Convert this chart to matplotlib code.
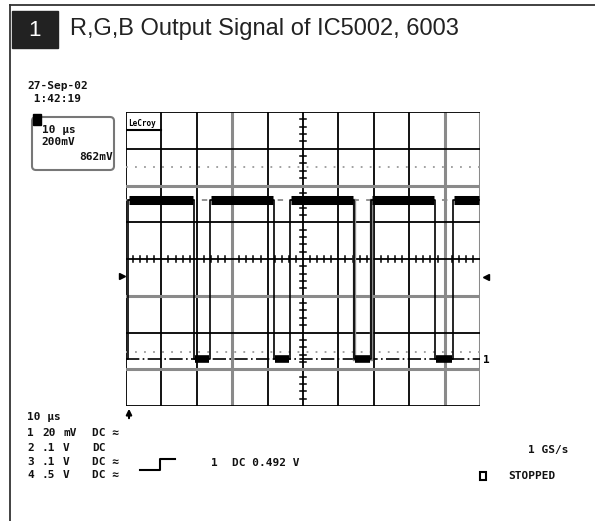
import numpy as np
import matplotlib.pyplot as plt
from matplotlib.patches import Rectangle, FancyBboxPatch

# channel 1 trace, time in us (10 us/div), level in divisions
edge_times = [0.0, 0.6, 19.2, 23.7, 41.9, 46.3, 64.5, 69.2, 87.3, 92.4, 100.0]
edge_states = [0, 1, 0, 1, 0, 1, 0, 1, 0, 1]   # 0 = low, 1 = high
high_level = 1.6
low_level = -2.72

# cursor / reference lines (divisions)
dotted_levels = [2.5, -2.53]

# screen grid
black_vlines = [0, 1, 2, 4, 5, 6, 7, 8]
gray_vlines = [3, 9, 10]
black_hlines = [-4, -2, 0, 1, 3, 4]
gray_hlines = [-3, -1, 2]

title = "R,G,B Output Signal of IC5002, 6003"
mono = "DejaVu Sans Mono"

W, H = 595, 521
fig = plt.figure(figsize=(W / 100, H / 100), dpi=100)

# page layer in pixel coordinates
page = fig.add_axes([0, 0, 1, 1])
page.set_xlim(0, W)
page.set_ylim(H, 0)
page.axis("off")

# frame and title
page.plot([10, W], [5, 5], color="#333333", lw=1.3)
page.plot([10, 10], [5, H], color="#333333", lw=1.3)
page.add_patch(Rectangle((12, 11), 46, 37, color="#222222"))
page.text(35, 30, "1", color="white", fontsize=16, ha="center", va="center",
          family="Liberation Sans")
page.text(70, 29, title, color="#222222", fontsize=17, ha="left", va="center",
          family="Liberation Sans")

# scope screen
gx0, gy0, gx1, gy1 = 126, 112, 480, 406
scope = fig.add_axes([gx0 / W, 1 - gy1 / H, (gx1 - gx0) / W, (gy1 - gy0) / H])
scope.set_xlim(0, 100)
scope.set_ylim(-4, 4)
scope.axis("off")

for x in black_vlines:
    scope.axvline(x * 10, color="black", lw=1.3, zorder=2)
for x in gray_vlines:
    scope.axvline(x * 10, color="#8a8a8a", lw=2.2, zorder=2)
for y in black_hlines:
    scope.axhline(y, color="black", lw=1.3, zorder=2)
for y in gray_hlines:
    scope.axhline(y, color="#8a8a8a", lw=2.2, zorder=2)

# minor ticks on the centre axes
minor_y = [v / 5 for v in range(-20, 21) if v % 5]
minor_x = [v * 2 for v in range(0, 51) if v % 5]
for y in minor_y:
    scope.plot([49.2, 50.8], [y, y], color="black", lw=1.1, zorder=3)
for x in minor_x:
    scope.plot([x, x], [-0.08, 0.08], color="black", lw=1.1, zorder=3)

for y in dotted_levels:
    scope.axhline(y, color="#9a9a9a", lw=1.3, ls=(0, (1, 4)), zorder=2)
scope.axhline(high_level, color="#8a8a8a", lw=1.3, ls=(0, (3, 4)), zorder=2)
scope.axhline(low_level, color="black", lw=1.2, ls=(0, (8, 2, 1, 2)), zorder=3)

# gray channel edges behind the trace
for t in [edge_times[6], edge_times[7]]:
    scope.plot([t, t], [low_level, high_level], color="#8a8a8a", lw=2.4, zorder=3)

levels = [high_level if s else low_level for s in edge_states]
scope.step(edge_times, levels + [levels[-1]], where="post", color="black",
           lw=1.2, zorder=4)
for t0, t1, s in zip(edge_times[:-1], edge_times[1:], edge_states):
    lvl = high_level if s else low_level
    scope.plot([t0 + 0.3, t1 - 0.3], [lvl, lvl], color="black",
               lw=6.5 if s else 5.5, solid_capstyle="butt", zorder=5)

scope.text(0.6, 3.8, "LeCroy", family=mono, fontsize=5.5, weight="bold",
           ha="left", va="top", zorder=6)
scope.plot([0.3, 10], [3.5, 3.5], color="black", lw=1.5, zorder=6)

# markers around the screen
page.plot([122], [276], marker=">", color="black", ms=4)
page.plot([486], [277], marker="<", color="black", ms=4)
page.text(483, 360, "1", family=mono, fontsize=8, weight="bold", ha="left", va="center")
page.annotate("", xy=(129, 406), xytext=(129, 421),
              arrowprops=dict(arrowstyle="-|>", color="black", lw=1.5,
                              mutation_scale=8))

# timestamp and zoom box
txt = dict(family=mono, fontsize=8, weight="bold", va="center", color="#111111")
page.text(27, 86, "27-Sep-02", ha="left", **txt)
page.text(27, 99, " 1:42:19", ha="left", **txt)
page.add_patch(FancyBboxPatch((32, 117), 82, 53, boxstyle="round,pad=0,rounding_size=4",
                              fc="white", ec="#777777", lw=1.5))
page.add_patch(Rectangle((33, 114), 8, 11, color="black"))
page.text(42, 130, "10 µs", ha="left", **txt)
page.text(41, 142, "200mV", ha="left", **txt)
page.text(113, 157, "862mV", ha="right", **txt)

# channel settings
page.text(27, 417, "10 µs", ha="left", **txt)
rows_y = [433, 448, 462, 475]
ch_names = ["1", "2", "3", "4"]
ch_scale = ["20", ".1", ".1", ".5"]
ch_unit = ["mV", "V", "V", "V"]
ch_coupling = ["DC ≈", "DC", "DC ≈", "DC ≈"]
for y, n, s, u, c in zip(rows_y, ch_names, ch_scale, ch_unit, ch_coupling):
    page.text(27, y, n, ha="left", **txt)
    page.text(42, y, s, ha="left", **txt)
    page.text(63, y, u, ha="left", **txt)
    page.text(92, y, c, ha="left", **txt)

# trigger setup
page.plot([140, 160, 160, 175], [470, 470, 459, 459], color="black", lw=1.5)
page.text(211, 463, "1", ha="left", **txt)
page.text(232, 463, "DC 0.492 V", ha="left", **txt)
page.text(528, 450, "1 GS/s", ha="left", **txt)
page.add_patch(Rectangle((480, 472), 6, 8, fc="white", ec="black", lw=1.5))
page.text(508, 476, "STOPPED", ha="left", **txt)

fig.savefig("out.png", dpi=100)
